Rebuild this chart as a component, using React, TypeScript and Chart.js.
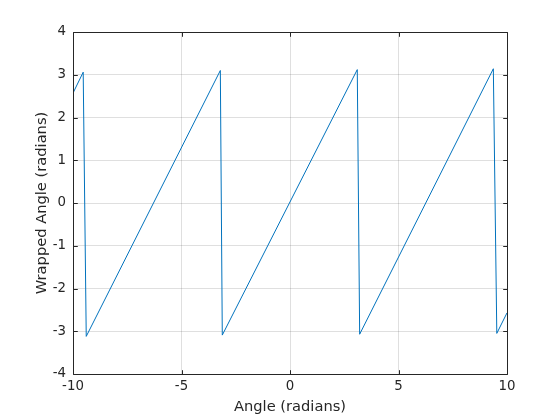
import React, { useEffect, useRef } from "react";
import { Chart, registerables } from "chart.js";

Chart.register(...registerables);

const angleX = [-10, -9.53, -9.39, -3.21, -3.12, 3.10, 3.21, 9.37, 9.53, 10];
const wrappedY = [2.57, 3.06, -3.12, 3.10, -3.09, 3.12, -3.07, 3.14, -3.05, -2.57];
const xTickValues = [-10, -5, 0, 5, 10];
const yTickValues = [-4, -3, -2, -1, 0, 1, 2, 3, 4];

const AXIS = "#262626";
const FONT = "'DejaVu Sans', sans-serif";

const framePlugin = {
  id: "matlabFrame",
  afterDatasetsDraw(chart: any) {
    const { ctx, chartArea, scales } = chart;
    const { left, right, top, bottom } = chartArea;
    const a = (v: number) => Math.round(v) + 0.5;
    const TL = 4.3;
    ctx.save();
    ctx.strokeStyle = AXIS;
    ctx.lineWidth = 1;
    ctx.beginPath();
    ctx.rect(a(left), a(top), Math.round(right) - Math.round(left), Math.round(bottom) - Math.round(top));
    ctx.stroke();
    ctx.beginPath();
    for (const t of scales.x.ticks) {
      const px = a(scales.x.getPixelForValue(t.value));
      ctx.moveTo(px, a(bottom));
      ctx.lineTo(px, a(bottom) - TL);
      ctx.moveTo(px, a(top));
      ctx.lineTo(px, a(top) + TL);
    }
    for (const t of scales.y.ticks) {
      const py = a(scales.y.getPixelForValue(t.value));
      ctx.moveTo(a(left), py);
      ctx.lineTo(a(left) + TL, py);
      ctx.moveTo(a(right), py);
      ctx.lineTo(a(right) - TL, py);
    }
    ctx.stroke();
    ctx.restore();
  },
};

export default function App() {
  const ref = useRef<HTMLCanvasElement | null>(null);
  useEffect(() => {
    if (!ref.current) return;
    const chart = new Chart(ref.current, {
      type: "line",
      data: {
        datasets: [
          {
            data: angleX.map((x, i) => ({ x, y: wrappedY[i] })),
            borderColor: "#0072BD",
            borderWidth: 1,
            pointRadius: 0,
            fill: false,
            tension: 0,
          },
        ],
      },
      options: {
        animation: false,
        responsive: false,
        devicePixelRatio: 1,
        layout: { padding: { left: 0, top: 32, right: 53, bottom: 0 } },
        plugins: { legend: { display: false }, tooltip: { enabled: false } },
        scales: {
          x: {
            type: "linear",
            min: -10,
            max: 10,
            afterFit: (s: any) => {
              s.height = 46;
            },
            afterBuildTicks: (s: any) => {
              s.ticks = xTickValues.map((value) => ({ value }));
            },
            ticks: {
              color: AXIS,
              font: { family: FONT, size: 13.33 },
              padding: 5,
              maxRotation: 0,
            },
            grid: { color: "rgba(38,38,38,0.15)", drawTicks: false, lineWidth: 1 },
            border: { display: false },
            title: {
              display: true,
              text: "Angle (radians)",
              color: AXIS,
              font: { family: FONT, size: 14.67 },
              padding: { top: 0, bottom: 4 },
            },
          },
          y: {
            type: "linear",
            min: -4,
            max: 4,
            afterFit: (s: any) => {
              s.width = 73;
            },
            afterBuildTicks: (s: any) => {
              s.ticks = yTickValues.map((value) => ({ value }));
            },
            ticks: {
              color: AXIS,
              font: { family: FONT, size: 13.33 },
              padding: 7,
            },
            grid: { color: "rgba(38,38,38,0.15)", drawTicks: false, lineWidth: 1 },
            border: { display: false },
            title: {
              display: true,
              text: "Wrapped Angle (radians)",
              color: AXIS,
              font: { family: FONT, size: 14.67 },
              padding: { top: 33, bottom: 0 },
            },
          },
        },
      },
      plugins: [framePlugin],
    });
    return () => chart.destroy();
  }, []);
  return (
    <div style={{ position: "fixed", left: 0, top: 0, width: 560, height: 420, background: "#fff" }}>
      <canvas ref={ref} width={560} height={420} style={{ display: "block" }} />
    </div>
  );
}
